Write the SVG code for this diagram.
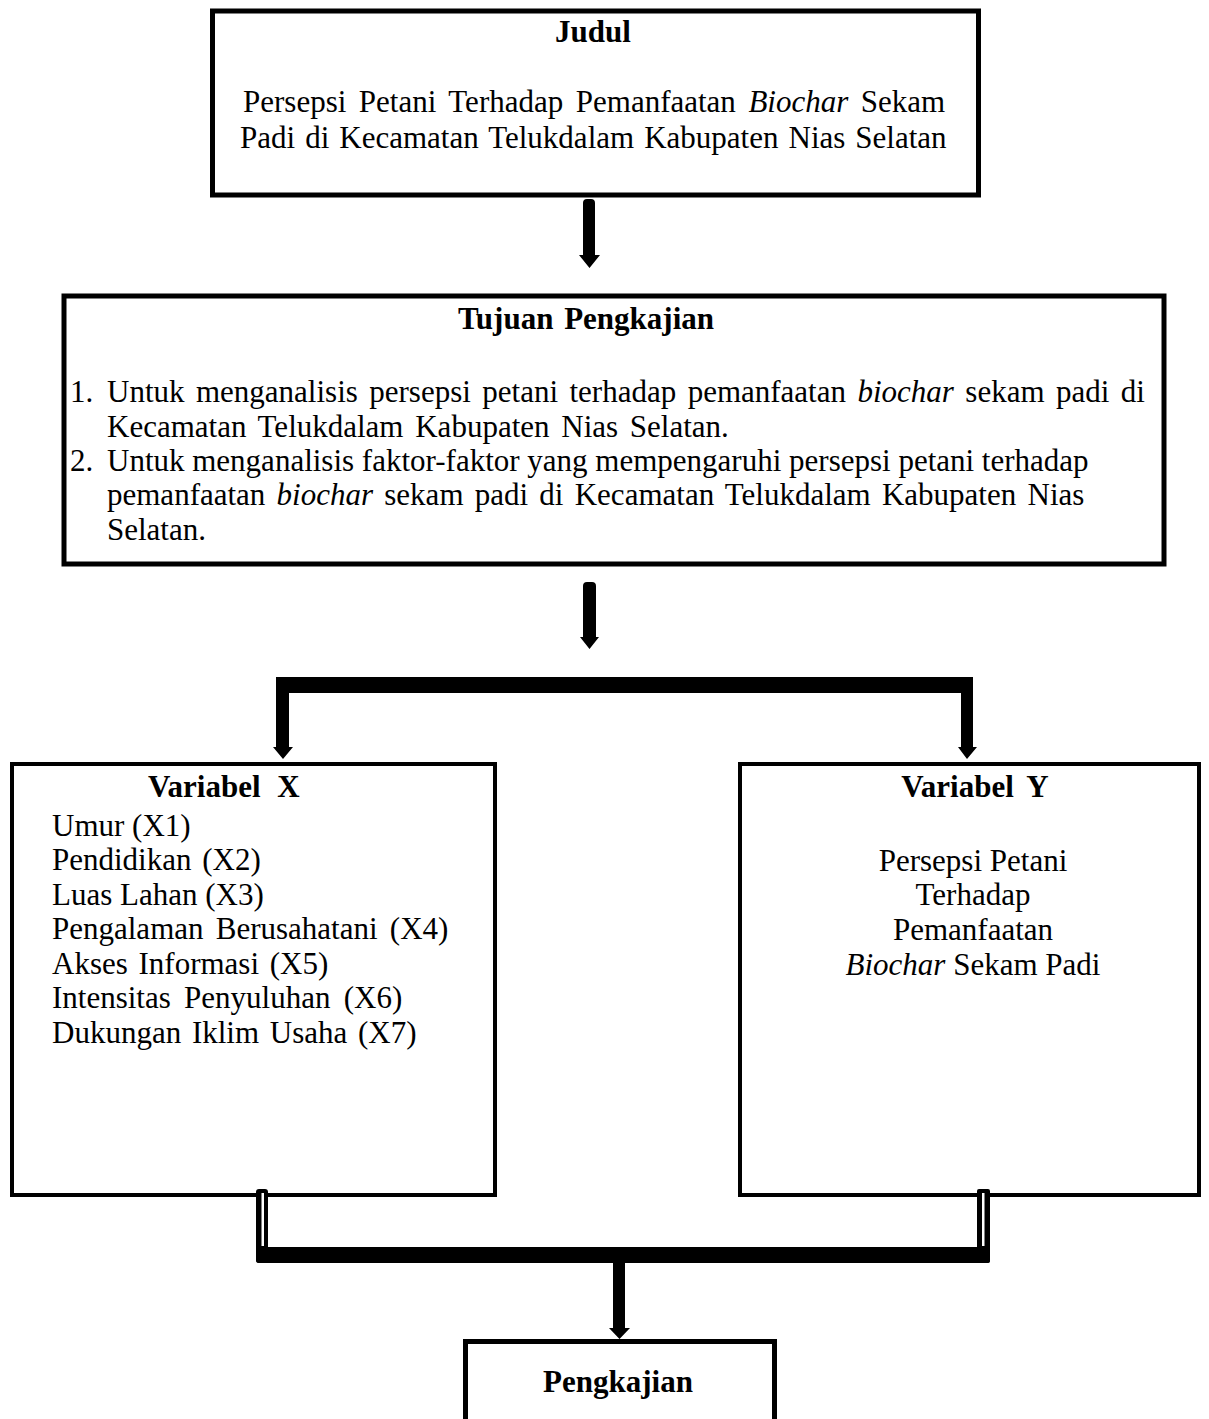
<svg xmlns="http://www.w3.org/2000/svg" width="1209" height="1419" viewBox="0 0 1209 1419">
<style>
.box{fill:#fff;stroke:#000;stroke-width:5}
.box4{fill:#fff;stroke:#000;stroke-width:4}
text{font-family:"Liberation Serif","Times New Roman",serif;font-size:31px;fill:#000}
.b{font-weight:bold}
.i{font-style:italic}
.c{fill:#000;stroke:none}
</style>
<rect width="1209" height="1419" fill="#fff"/>
<g id="judul">
<rect class="box" x="212.5" y="11" width="766" height="184"/>
<text class="b" x="555" y="42">Judul</text>
<text x="243" y="112" word-spacing="4.8">Persepsi Petani Terhadap Pemanfaatan <tspan class="i">Biochar</tspan> Sekam</text>
<text x="240" y="148" word-spacing="2.3">Padi di Kecamatan Telukdalam Kabupaten Nias Selatan</text>
</g>
<g id="tujuan">
<rect class="box" x="64" y="296" width="1100" height="268"/>
<text class="b" x="458" y="329" word-spacing="3">Tujuan Pengkajian</text>
<text x="70" y="402">1.</text>
<text x="107" y="402" word-spacing="3.7">Untuk menganalisis persepsi petani terhadap pemanfaatan <tspan class="i">biochar</tspan> sekam padi di</text>
<text x="107" y="437" word-spacing="4">Kecamatan Telukdalam Kabupaten Nias Selatan.</text>
<text x="70" y="471">2.</text>
<text x="107" y="471">Untuk menganalisis faktor-faktor yang mempengaruhi persepsi petani terhadap</text>
<text x="107" y="505" word-spacing="3.5">pemanfaatan <tspan class="i">biochar</tspan> sekam padi di Kecamatan Telukdalam Kabupaten Nias</text>
<text x="107" y="540">Selatan.</text>
</g>
<g id="variabel-x">
<rect class="box4" x="12" y="764" width="483" height="431"/>
<text class="b" x="148" y="797" word-spacing="9">Variabel X</text>
<text x="52" y="836">Umur (X1)</text>
<text x="52" y="870" word-spacing="3">Pendidikan (X2)</text>
<text x="52" y="905">Luas Lahan (X3)</text>
<text x="52" y="939" word-spacing="4.5">Pengalaman Berusahatani (X4)</text>
<text x="52" y="974" word-spacing="3">Akses Informasi (X5)</text>
<text x="52" y="1008" word-spacing="5.5">Intensitas Penyuluhan (X6)</text>
<text x="52" y="1043" word-spacing="3">Dukungan Iklim Usaha (X7)</text>
</g>
<g id="variabel-y">
<rect class="box4" x="740" y="764" width="459" height="431"/>
<text class="b" x="975" y="797" text-anchor="middle" word-spacing="6">Variabel Y</text>
<text x="973" y="871" text-anchor="middle">Persepsi Petani</text>
<text x="973" y="905" text-anchor="middle">Terhadap</text>
<text x="973" y="940" text-anchor="middle">Pemanfaatan</text>
<text x="973" y="975" text-anchor="middle"><tspan class="i">Biochar</tspan> Sekam Padi</text>
</g>
<g id="pengkajian">
<rect class="box" x="465.5" y="1341.5" width="309" height="110"/>
<text class="b" x="618" y="1392" text-anchor="middle">Pengkajian</text>
</g>
<g id="connectors">
<path class="c" d="M583,203 Q583,199 587,199 L591,199 Q595,199 595,203 L595,255 L600,255 L589.5,268 L579,255 L583,255 Z"/>
<path class="c" d="M583,586 Q583,582 587,582 L592,582 Q596,582 596,586 L596,637 L599,637 L589.5,649 L580,637 L583,637 Z"/>
<path class="c" d="M276,677 L973,677 L973,747 L977,747 L967,759 L958,747 L961,747 L961,693 L289,693 L289,747 L293,747 L283,759 L273,747 L276,747 Z"/>
<rect class="c" x="256" y="1189" width="12" height="74" rx="3"/>
<rect x="261.5" y="1193" width="2.5" height="53" fill="#fff"/>
<rect class="c" x="977" y="1189" width="13" height="74" rx="2"/>
<rect x="982" y="1193" width="2.5" height="53" fill="#fff"/>
<rect class="c" x="256" y="1247" width="734" height="16" rx="3"/>
<path class="c" d="M613,1262 L625,1262 L625,1328 L630,1328 L619.5,1339 L609,1328 L613,1328 Z"/>
</g>
</svg>
